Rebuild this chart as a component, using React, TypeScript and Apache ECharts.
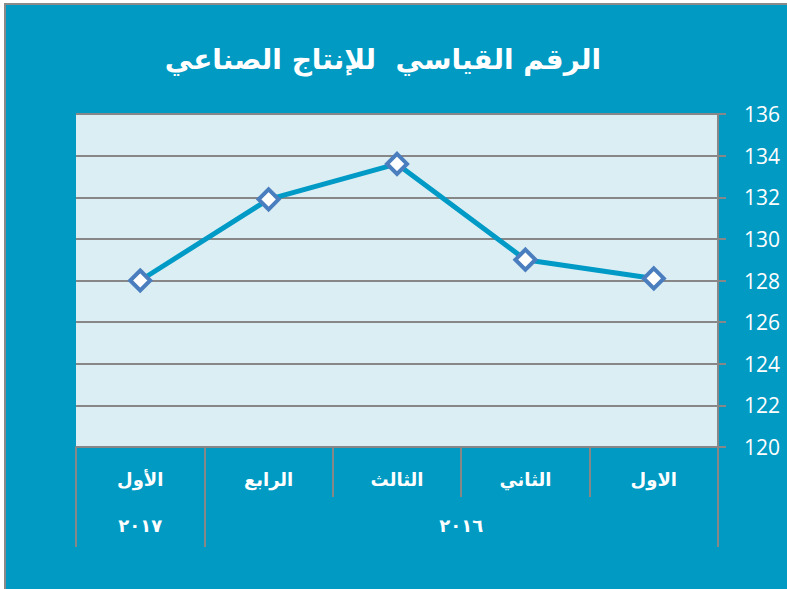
import React, { useEffect, useRef } from "react";
import * as echarts from "echarts";

const titleText = "الرقم القياسي  للإنتاج الصناعي";
const categories = ["الاول", "الثاني", "الثالث", "الرابع", "الأول"];
const values = [128.1, 129.0, 133.6, 131.9, 128.0];
const yearLabels = ["٢٠١٦", "٢٠١٧"];
const yearSpans = [4, 1];
const yMin = 120;
const yMax = 136;
const yStep = 2;

export default function App() {
  const ref = useRef<HTMLDivElement>(null);
  useEffect(() => {
    if (!ref.current) return;
    const chart = echarts.init(ref.current, null, { renderer: "svg" });
    const bounds: number[] = [0];
    const centers: number[] = [];
    let acc = 0;
    yearSpans.forEach((s) => {
      centers.push(acc + s / 2);
      acc += s;
      bounds.push(acc);
    });
    const gray = "#878787";
    chart.setOption({
      animation: false,
      backgroundColor: "#ffffff",
      graphic: [
        {
          type: "rect",
          z: -10,
          silent: true,
          shape: { x: 5, y: 4, width: 800, height: 600 },
          style: { fill: "#009AC3", stroke: "#8a8a8a", lineWidth: 2 },
        },
      ],
      title: {
        text: titleText,
        left: 378,
        textAlign: "center",
        top: 40,
        textStyle: {
          color: "#ffffff",
          fontSize: 28,
          fontWeight: "bold",
          fontFamily: "DejaVu Sans",
        },
      },
      grid: {
        left: 76,
        right: 69,
        top: 114,
        bottom: 142,
        show: true,
        backgroundColor: "#DBEEF4",
        borderWidth: 0,
      },
      xAxis: [
        {
          type: "category",
          data: categories,
          inverse: true,
          boundaryGap: true,
          position: "bottom",
          axisLine: { show: true, lineStyle: { color: gray, width: 2 } },
          axisTick: {
            show: true,
            alignWithLabel: false,
            length: 50,
            lineStyle: { color: gray, width: 2 },
          },
          axisLabel: {
            color: "#ffffff",
            fontSize: 18,
            fontWeight: "bold",
            fontFamily: "DejaVu Sans",
            margin: 23,
          },
          splitLine: { show: false },
        },
        {
          type: "value",
          min: 0,
          max: acc,
          interval: 0.5,
          inverse: true,
          position: "bottom",
          axisLine: { show: false },
          axisTick: {
            show: true,
            customValues: bounds,
            length: 100,
            lineStyle: { color: gray, width: 2 },
          },
          axisLabel: {
            show: true,
            customValues: centers,
            color: "#ffffff",
            fontSize: 18,
            fontWeight: "bold",
            fontFamily: "DejaVu Sans",
            margin: 69,
            formatter: (v: number) => {
              const i = centers.findIndex((c) => Math.abs(c - v) < 1e-6);
              return i >= 0 ? yearLabels[i] : "";
            },
          },
          splitLine: { show: false },
        },
      ],
      yAxis: {
        type: "value",
        position: "right",
        min: yMin,
        max: yMax,
        interval: yStep,
        axisLine: { show: true, lineStyle: { color: gray, width: 2 } },
        axisTick: { show: true, length: 8, lineStyle: { color: gray, width: 2 } },
        axisLabel: {
          color: "#ffffff",
          fontSize: 21,
          fontFamily: "Open Sans",
          margin: 26,
          align: "left",
        },
        splitLine: { show: true, lineStyle: { color: gray, width: 2 } },
      },
      series: [
        {
          type: "line",
          xAxisIndex: 0,
          data: values,
          symbol: "diamond",
          symbolSize: 20,
          showSymbol: true,
          lineStyle: { color: "#009AC6", width: 5 },
          itemStyle: { color: "#ffffff", borderColor: "#4A7EBE", borderWidth: 4 },
          z: 5,
        },
      ],
    });
    return () => chart.dispose();
  }, []);
  return (
    <div
      ref={ref}
      style={{ position: "absolute", left: 0, top: 0, width: 787, height: 589 }}
    />
  );
}
